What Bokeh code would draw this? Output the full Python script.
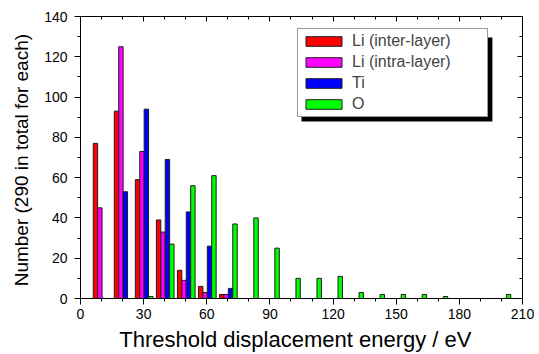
from bokeh.plotting import figure
from bokeh.models import (Range1d, LinearAxis, SingleIntervalTicker, CustomJSTickFormatter,
                          Legend, LegendItem, BoxAnnotation, ColumnDataSource)
from bokeh.embed import file_html
from bokeh.resources import INLINE

# ---- data: counts per 10 eV bin (290 in total for each species) ----
bin_start = [0, 10, 20, 30, 40, 50, 60, 70, 80, 90, 100, 110, 120, 130, 140, 150, 160, 170, 180, 190]
li_inter = [77, 93, 59, 39, 14, 6, 2, 0, 0, 0, 0, 0, 0, 0, 0, 0, 0, 0, 0, 0]
li_intra = [45, 125, 73, 33, 9, 3, 2, 0, 0, 0, 0, 0, 0, 0, 0, 0, 0, 0, 0, 0]
ti = [0, 53, 94, 69, 43, 26, 5, 0, 0, 0, 0, 0, 0, 0, 0, 0, 0, 0, 0, 0]
o = [0, 0, 1, 27, 56, 61, 37, 40, 25, 10, 10, 11, 3, 2, 2, 2, 1, 0, 0, 2]

series_names = ["Li (inter-layer)", "Li (intra-layer)", "Ti", "O"]
series_values = [li_inter, li_intra, ti, o]
series_colors = ["#ff0000", "#ff00ff", "#0000ff", "#00ff00"]
bar_offsets = [7.1, 9.2, 11.3, 13.4]
bar_width = 2.1

x_ticks_major = 30
y_ticks_major = 20

FONT = "Liberation Sans"

p = figure(width=539, height=354, output_backend="svg", toolbar_location=None,
           x_range=Range1d(0, 210), y_range=Range1d(0, 140),
           min_border_left=80, min_border_right=17, min_border_top=16, min_border_bottom=56)
p.background_fill_color = "white"
p.border_fill_color = "white"
p.grid.visible = False
p.outline_line_color = "black"
p.outline_line_width = 1

items = []
for name, vals, col, off in zip(series_names, series_values, series_colors, bar_offsets):
    xs = [b + off for b, v in zip(bin_start, vals) if v > 0]
    ys = [v for v in vals if v > 0]
    src = ColumnDataSource(dict(x=xs, top=ys))
    r = p.vbar(x="x", top="top", bottom=0, width=bar_width, source=src,
               fill_color=col, line_color="#1e1e1e", line_width=1)
    items.append(LegendItem(label=name, renderers=[r]))

# axes
xa = p.xaxis[0]
xa.ticker = SingleIntervalTicker(interval=x_ticks_major, num_minor_ticks=3)
ya = p.yaxis[0]
ya.ticker = SingleIntervalTicker(interval=y_ticks_major, num_minor_ticks=2)
for ax in (xa, ya):
    ax.axis_line_color = "black"
    ax.axis_line_width = 1
    ax.major_tick_line_color = "black"
    ax.minor_tick_line_color = "black"
    ax.major_tick_out = 6
    ax.major_tick_in = 0
    ax.minor_tick_out = 3
    ax.minor_tick_in = 0
    ax.major_label_text_font = FONT
    ax.major_label_text_font_size = "14px"
    ax.major_label_text_color = "black"
    ax.axis_label_text_font = FONT
    ax.axis_label_text_font_style = "normal"
    ax.axis_label_text_color = "black"
xa.major_label_standoff = 4
ya.major_label_standoff = 7
xa.axis_label = "Threshold displacement energy  /  eV"
xa.axis_label_text_font_size = "22px"
xa.axis_label_standoff = 5
ya.axis_label = "Number  (290 in total for each)"
ya.axis_label_text_font_size = "19px"
ya.axis_label_standoff = 9

blank = CustomJSTickFormatter(code="return ''")
top_ax = LinearAxis(ticker=SingleIntervalTicker(interval=x_ticks_major, num_minor_ticks=3),
                    formatter=blank, major_tick_in=5, major_tick_out=0,
                    minor_tick_in=3, minor_tick_out=0, axis_line_color="black",
                    major_label_text_font_size="1px")
right_ax = LinearAxis(ticker=SingleIntervalTicker(interval=y_ticks_major, num_minor_ticks=2),
                      formatter=blank, major_tick_in=5, major_tick_out=0,
                      minor_tick_in=3, minor_tick_out=0, axis_line_color="black",
                      major_label_text_font_size="1px")
p.add_layout(top_ax, "above")
p.add_layout(right_ax, "right")

# legend shadow (data units matching the legend box below)
shadow = BoxAnnotation(left=105.0, right=195.7, top=129.6, bottom=87.9,
                       fill_color="black", fill_alpha=1.0, line_color=None)
p.add_layout(shadow)

legend = Legend(items=items, location=(217, 181),
                glyph_width=45, glyph_height=12, label_width=132, label_height=16,
                spacing=3, padding=3, margin=0, label_standoff=6,
                label_text_font=FONT, label_text_font_size="16px",
                border_line_color="#333333", border_line_width=1,
                background_fill_color="white", background_fill_alpha=1.0)
p.add_layout(legend)

open("out.html", "w").write(file_html(p, INLINE))
